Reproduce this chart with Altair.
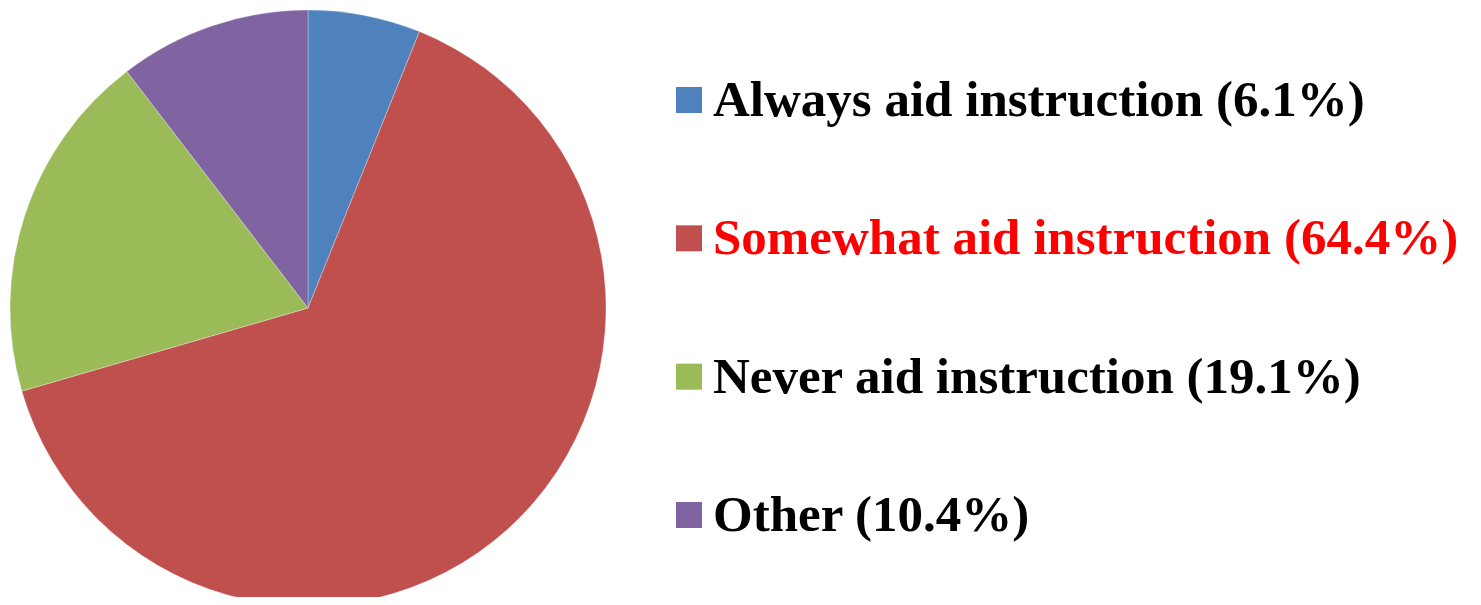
import altair as alt
import pandas as pd

categories = ["Always aid instruction", "Somewhat aid instruction", "Never aid instruction", "Other"]
values = [6.1, 64.4, 19.1, 10.4]
labels = ["Always aid instruction (6.1%)", "Somewhat aid instruction (64.4%)",
          "Never aid instruction (19.1%)", "Other (10.4%)"]
colors = ["#4F81BD", "#C0504D", "#9BBB59", "#8064A2"]
label_colors = ["#000000", "#FF0000", "#000000", "#000000"]

df = pd.DataFrame({
    "category": categories,
    "value": values,
    "label": labels,
    "order": list(range(len(categories))),
    "label_color": label_colors,
})

color_scale = alt.Scale(domain=categories, range=colors)

pie = alt.Chart(df).mark_arc(radius=298, stroke="#FFFFFF", strokeWidth=0.3).encode(
    theta=alt.Theta("value:Q", stack=True),
    order=alt.Order("order:Q"),
    color=alt.Color("category:N", scale=color_scale, legend=None),
    x=alt.value(300),
    y=alt.value(300),
)

yenc = alt.Y("category:N", sort=categories, axis=None,
             scale=alt.Scale(type="point", range=[92, 507], padding=0))

squares = alt.Chart(df).mark_square(size=676, opacity=1).encode(
    y=yenc,
    x=alt.value(681),
    color=alt.Color("category:N", scale=color_scale, legend=None),
)

texts = alt.Chart(df).mark_text(
    align="left", baseline="middle", font="Liberation Serif", fontWeight="bold", fontSize=51, dy=1
).encode(
    y=yenc,
    x=alt.value(705),
    text="label:N",
    color=alt.Color("label_color:N", scale=None),
)

chart = alt.layer(pie, squares, texts).properties(
    width=1465, height=589, padding=0, autosize=alt.AutoSizeParams(type="none")
).configure_view(stroke=None)

chart.save("out.html", embed_options={"renderer": "svg", "actions": False})
